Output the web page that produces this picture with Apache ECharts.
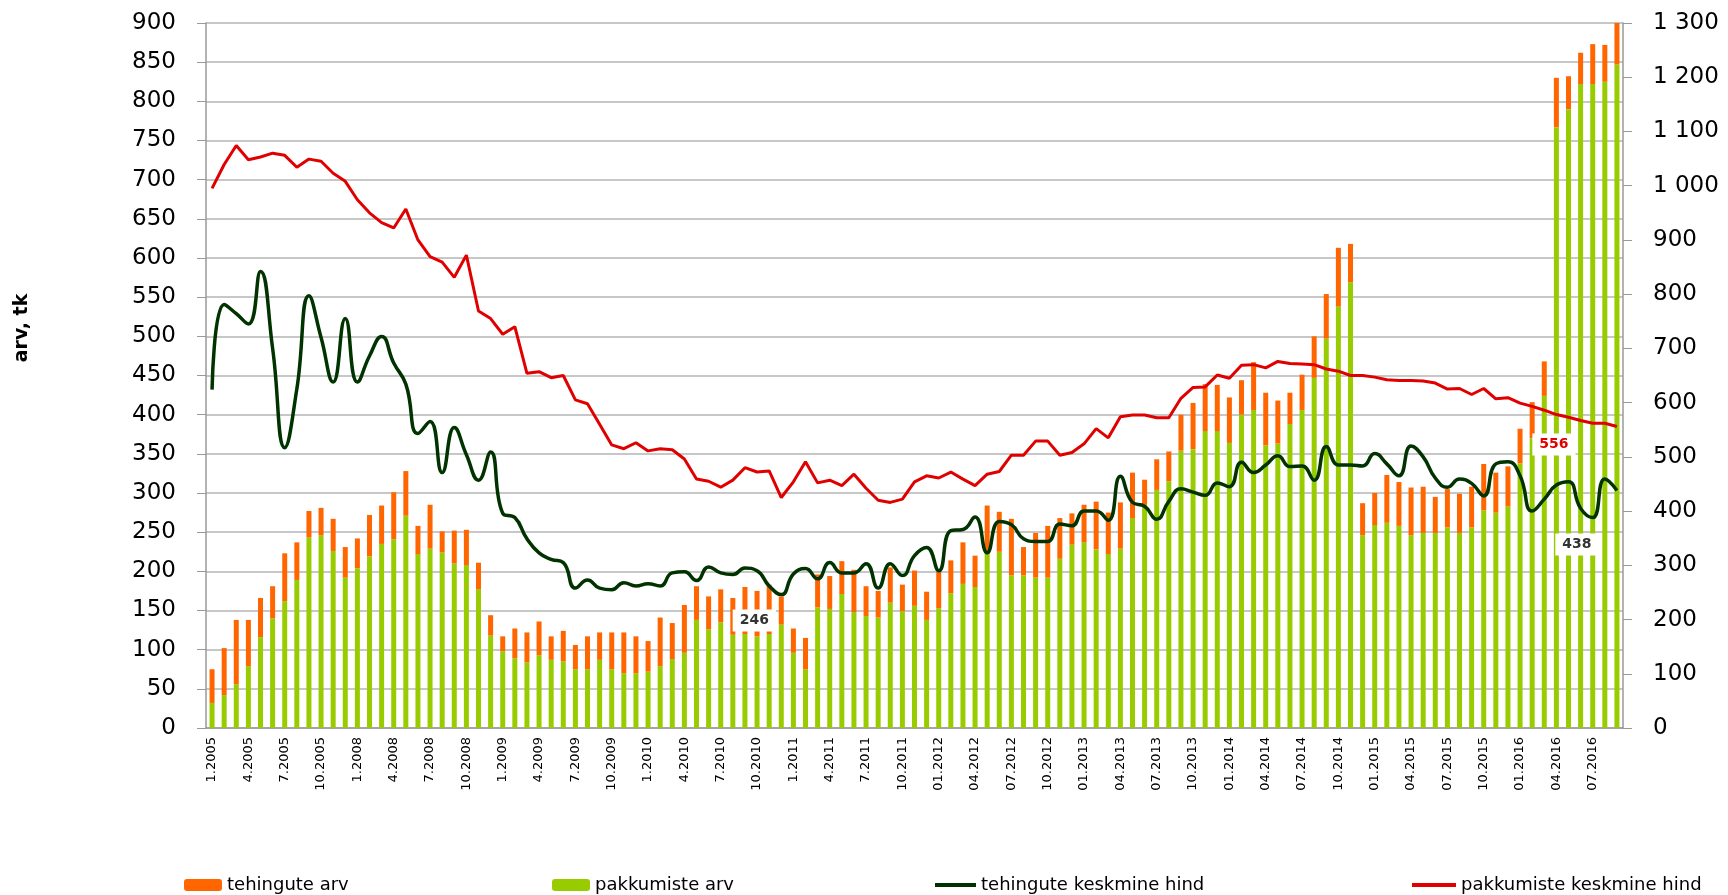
<!DOCTYPE html>
<html lang="et">
<head>
  <meta charset="UTF-8">
  <title>Pakkumiste ja tehingute arv</title>
  <script src="https://cdn.jsdelivr.net/npm/echarts@6/dist/echarts.min.js"></script>
  <style>
    html, body { margin: 0; padding: 0; background: #fff; }
    #chart { width: 1728px; height: 895px; }
  </style>
</head>
<body>
<div id="chart"></div>
<script>
  // kategooriad (kuud)
  const years = [2005, 2008, 2009, 2010, 2011, 2012, 2013, 2014, 2015, 2016];
  const monthsPerYear = [12, 12, 12, 12, 12, 12, 12, 12, 12, 9];
  const categories = [];
  years.forEach((y, i) => {
    for (let m = 1; m <= monthsPerYear[i]; m++) {
      categories.push((y >= 2012 && m < 10 ? '0' + m : m) + '.' + y);
    }
  });

  // pakkumiste arv (roheline, all)
  const pakkumisteArv = [
    32, 42, 56, 79, 116, 140, 162, 189, 243, 246, 226, 192,
    204, 219, 235, 241, 271, 222, 229, 224, 210, 208, 177, 118,
    98, 89, 84, 93, 87, 85, 75, 75, 87, 75, 70, 70,
    72, 79, 88, 96, 138, 126, 135, 119, 120, 117, 120, 132,
    96, 75, 154, 152, 171, 148, 143, 141, 160, 149, 156, 138,
    153, 172, 184, 180, 224, 225, 195, 195, 192, 192, 216, 234,
    237, 228, 222, 229, 268, 285, 304, 315, 354, 356, 379, 379,
    364, 400, 406, 361, 363, 388, 406, 447, 497, 538, 569, 246,
    259, 262, 258, 246, 249, 249, 256, 249, 256, 278, 275, 283,
    338, 370, 424, 767, 790, 822, 822, 825, 847
  ];
  // tehingute arv (oranž, peal)
  const tehinguteArv = [
    43, 60, 82, 59, 50, 41, 61, 48, 34, 35, 41, 39,
    38, 53, 49, 60, 57, 36, 56, 27, 42, 45, 34, 26,
    19, 38, 38, 43, 30, 39, 31, 42, 35, 47, 52, 47,
    39, 62, 46, 61, 43, 42, 42, 47, 60, 58, 63, 36,
    31, 40, 42, 42, 42, 54, 38, 34, 45, 34, 45, 36,
    46, 42, 53, 40, 60, 51, 72, 36, 57, 66, 52, 40,
    48, 61, 53, 59, 58, 32, 39, 38, 46, 59, 60, 59,
    58, 44, 61, 67, 55, 40, 45, 53, 57, 75, 49, 41,
    41, 61, 56, 61, 59, 46, 49, 50, 52, 59, 51, 51,
    44, 46, 44, 63, 42, 40, 51, 47, 53
  ];
  // tehingute keskmine hind (parem telg)
  const tehinguteHind = [
    624, 781, 764, 745, 842, 700, 517, 625, 797, 720, 638, 755,
    638, 686, 722, 673, 634, 543, 565, 471, 554, 504, 457, 509,
    396, 388, 349, 323, 311, 305, 258, 273, 258, 255, 268, 262,
    266, 262, 286, 288, 272, 297, 286, 283, 295, 290, 262, 246,
    284, 294, 275, 305, 286, 286, 303, 258, 303, 281, 318, 333,
    290, 364, 366, 389, 323, 381, 375, 349, 344, 344, 376, 373,
    400, 400, 383, 464, 416, 409, 385, 418, 441, 435, 429, 452,
    445, 490, 471, 485, 502, 482, 483, 457, 519, 485, 485, 483,
    506, 487, 465, 520, 500, 461, 444, 459, 451, 428, 487, 491,
    465, 400, 422, 448, 454, 405, 388, 459, 438
  ];
  // pakkumiste keskmine hind (parem telg)
  const pakkumisteHind = [
    995, 1039, 1074, 1048, 1053, 1060, 1056, 1034, 1049, 1045, 1023, 1008,
    974, 950, 932, 922, 957, 900, 869, 859, 831, 872, 769, 755,
    726, 740, 654, 657, 646, 650, 605, 598, 560, 522, 515, 526,
    511, 515, 513, 496, 459, 455, 444, 457, 480, 472, 474, 425,
    454, 491, 452, 457, 447, 468, 442, 420, 416, 422, 454, 465,
    461, 472, 459, 447, 468, 473, 503, 503, 529, 529, 503, 508,
    524, 552, 535, 574, 577, 577, 572, 572, 608, 628, 629, 651,
    645, 669, 670, 664, 676, 672, 671, 670, 662, 658, 650, 650,
    647, 642, 641, 641, 640, 636, 625, 626, 615, 626, 607, 609,
    599, 593, 586, 578, 573, 567, 562, 562, 556
  ];

  const axisFont = 'DejaVu Sans, sans-serif';
  const legendText = { color: '#000', fontSize: 18, fontFamily: axisFont };

  const chart = echarts.init(document.getElementById('chart'));

  const option = {
    backgroundColor: '#fff',
    animation: false,
    grid: { left: 206, right: 105, top: 23, bottom: 167 },
    graphic: [{
      type: 'text',
      x: 22,
      y: 328,
      rotation: Math.PI / 2,
      style: {
        text: 'arv, tk',
        font: 'bold 19px DejaVu Sans, sans-serif',
        fill: '#000',
        textAlign: 'center',
        textVerticalAlign: 'middle'
      }
    }],
    legend: [
      { data: ['tehingute arv'], left: 179, top: 871, itemWidth: 38, itemHeight: 12, itemGap: 0, textStyle: legendText },
      { data: ['pakkumiste arv'], left: 547, top: 871, itemWidth: 38, itemHeight: 12, itemGap: 0, textStyle: legendText },
      { data: ['tehingute keskmine hind'], left: 930, top: 871, itemWidth: 41, itemHeight: 4, icon: 'rect', itemGap: 0, textStyle: legendText },
      { data: ['pakkumiste keskmine hind'], left: 1407, top: 871, itemWidth: 44, itemHeight: 4, icon: 'rect', itemGap: 0, textStyle: legendText }
    ],
    xAxis: {
      type: 'category',
      data: categories,
      boundaryGap: true,
      axisLine: { lineStyle: { color: '#999', width: 1.5 } },
      axisTick: { interval: 0, length: 6, lineStyle: { color: '#999' } },
      axisLabel: {
        interval: 2,
        rotate: 90,
        margin: 9,
        color: '#000',
        fontSize: 13,
        fontFamily: axisFont
      },
      splitLine: { show: false }
    },
    yAxis: [
      {
        type: 'value',
        min: 0,
        max: 900,
        interval: 50,
        axisLine: { show: true, lineStyle: { color: '#999', width: 1.5 } },
        axisTick: { show: true, length: 9, lineStyle: { color: '#999' } },
        axisLabel: { color: '#000', fontSize: 23, fontFamily: axisFont, margin: 30 },
        splitLine: { lineStyle: { color: '#b4b4b4', width: 1.5 } }
      },
      {
        type: 'value',
        min: 0,
        max: 1300,
        interval: 100,
        axisLine: { show: true, lineStyle: { color: '#999', width: 1.5 } },
        axisTick: { show: true, length: 9, lineStyle: { color: '#999' } },
        axisLabel: {
          color: '#000',
          fontSize: 23,
          fontFamily: axisFont,
          margin: 30,
          formatter: v => v >= 1000 ? Math.floor(v / 1000) + ' ' + String(v % 1000).padStart(3, '0') : String(v)
        },
        splitLine: { show: false }
      }
    ],
    series: [
      {
        name: 'pakkumiste arv',
        type: 'bar',
        stack: 'arv',
        barWidth: 5,
        itemStyle: { color: '#99cc00' },
        data: pakkumisteArv
      },
      {
        name: 'tehingute arv',
        type: 'bar',
        stack: 'arv',
        barWidth: 5,
        itemStyle: { color: '#ff6600' },
        data: tehinguteArv
      },
      {
        name: 'pakkumiste keskmine hind',
        type: 'line',
        yAxisIndex: 1,
        showSymbol: false,
        lineStyle: { color: '#e00000', width: 3 },
        itemStyle: { color: '#e00000' },
        data: pakkumisteHind,
        markPoint: {
          symbol: 'rect',
          symbolSize: 1,
          itemStyle: { color: 'rgba(0,0,0,0)' },
          label: {
            show: true,
            position: 'inside',
            formatter: '{c}',
            color: '#e00000',
            fontWeight: 'bold',
            fontSize: 14,
            fontFamily: axisFont,
            backgroundColor: '#fff',
            padding: [4, 7]
          },
          data: [
            { coord: [116, pakkumisteHind[116]], value: pakkumisteHind[116], symbolOffset: [-63, 18] }
          ]
        }
      },
      {
        name: 'tehingute keskmine hind',
        type: 'line',
        yAxisIndex: 1,
        smooth: true,
        showSymbol: false,
        lineStyle: { color: '#003300', width: 3.5 },
        itemStyle: { color: '#003300' },
        data: tehinguteHind,
        markPoint: {
          symbol: 'rect',
          symbolSize: 1,
          itemStyle: { color: 'rgba(0,0,0,0)' },
          label: {
            show: true,
            position: 'inside',
            formatter: '{c}',
            color: '#333',
            fontWeight: 'bold',
            fontSize: 14,
            fontFamily: axisFont,
            backgroundColor: '#fff',
            padding: [4, 7]
          },
          data: [
            { coord: [47, tehinguteHind[47]], value: tehinguteHind[47], symbolOffset: [-27, 26] },
            { coord: [116, tehinguteHind[116]], value: tehinguteHind[116], symbolOffset: [-40, 54] }
          ]
        }
      }
    ]
  };

  chart.setOption(option);
</script>
</body>
</html>
